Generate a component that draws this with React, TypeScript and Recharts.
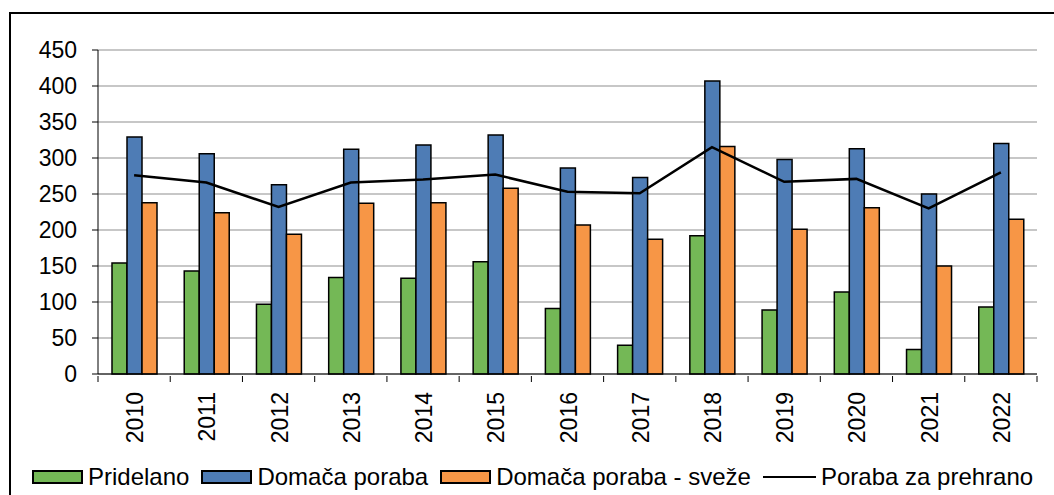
import { ComposedChart, Bar, Line, XAxis, YAxis, CartesianGrid, Legend } from 'recharts';

const leta = ['2010', '2011', '2012', '2013', '2014', '2015', '2016', '2017', '2018', '2019', '2020', '2021', '2022'];
const pridelano = [154, 143, 97, 134, 133, 156, 91, 40, 192, 89, 114, 34, 93];
const domacaPoraba = [329, 306, 263, 312, 318, 332, 286, 273, 407, 298, 313, 250, 320];
const domacaSveze = [238, 224, 194, 237, 238, 258, 207, 187, 316, 201, 231, 150, 215];
const porabaPrehrano = [276, 266, 232, 266, 270, 277, 253, 251, 315, 267, 271, 230, 280];
const yTicks = [0, 50, 100, 150, 200, 250, 300, 350, 400, 450];

const data = leta.map((leto, i) => ({
  leto,
  pridelano: pridelano[i],
  domaca: domacaPoraba[i],
  sveze: domacaSveze[i],
  prehrano: porabaPrehrano[i],
}));

const pisava = '"Liberation Sans", Arial, sans-serif';

function LetoTick(props: any) {
  const { x, y, payload, index, visibleTicksCount, width } = props;
  const n = visibleTicksCount || leta.length;
  const bw = (width || 939) / n;
  const left = x - bw / 2;
  return (
    <g>
      <line x1={left} y1={y - 6} x2={left} y2={y} stroke='#000' strokeWidth={1} />
      {index === n - 1 && (
        <line x1={x + bw / 2} y1={y - 6} x2={x + bw / 2} y2={y} stroke='#000' strokeWidth={1} />
      )}
      <text
        transform={`translate(${x + 1},${y + 10}) rotate(-90)`}
        textAnchor='end'
        dominantBaseline='central'
        fontSize={23}
        fontFamily={pisava}
        fill='#000'
      >
        {payload.value}
      </text>
    </g>
  );
}

const legendItems = [
  { name: 'Pridelano', color: '#74b856', type: 'box' },
  { name: 'Domača poraba', color: '#4e7cb5', type: 'box' },
  { name: 'Domača poraba - sveže', color: '#f79646', type: 'box' },
  { name: 'Poraba za prehrano', color: '#000', type: 'line' },
];

function Legenda() {
  return (
    <div
      style={{
        display: 'flex',
        alignItems: 'center',
        height: 30,
        paddingLeft: 32,
        fontFamily: pisava,
        fontSize: 24,
        color: '#000',
        whiteSpace: 'nowrap',
      }}
    >
      {legendItems.map((it) => (
        <div key={it.name} style={{ display: 'flex', alignItems: 'center', marginRight: 12 }}>
          {it.type === 'box' ? (
            <span
              style={{
                display: 'inline-block',
                width: 47,
                height: 10,
                background: it.color,
                border: '2px solid #000',
                marginRight: 5,
              }}
            />
          ) : (
            <span
              style={{
                display: 'inline-block',
                width: 53,
                height: 0,
                borderTop: '2px solid #000',
                marginRight: 5,
              }}
            />
          )}
          <span>{it.name}</span>
        </div>
      ))}
    </div>
  );
}

export default function App() {
  return (
    <div style={{ position: 'absolute', left: 0, top: 0, width: 1054, height: 495, overflow: 'hidden', background: '#fff' }}>
      <div
        style={{
          position: 'absolute',
          left: 9,
          top: 12,
          width: 1100,
          height: 520,
          border: '2px solid #000',
        }}
      />
      <div style={{ position: 'absolute', left: 0, top: 0 }}>
        <ComposedChart
          width={1054}
          height={495}
          data={data}
          margin={{ top: 50, right: 17, bottom: 3, left: 0 }}
          barGap={0}
        >
          <CartesianGrid vertical={false} stroke='#b4b4b4' strokeWidth={1.5} />
          <XAxis
            dataKey='leto'
            height={88}
            interval={0}
            tickLine={false}
            axisLine={{ stroke: '#000', strokeWidth: 1 }}
            tick={<LetoTick />}
          />
          <YAxis
            width={98}
            domain={[0, 450]}
            ticks={yTicks}
            interval={0}
            tickSize={6}
            tickMargin={15}
            axisLine={{ stroke: '#000', strokeWidth: 1 }}
            tickLine={{ stroke: '#000' }}
            tick={{ fontSize: 23, fontFamily: pisava, fill: '#000' }}
          />
          <Legend verticalAlign='bottom' align='left' content={() => <Legenda />} />
          <Bar dataKey='pridelano' name='Pridelano' fill='#74b856' stroke='#000' strokeWidth={1.5} barSize={15} isAnimationActive={false} />
          <Bar dataKey='domaca' name='Domača poraba' fill='#4e7cb5' stroke='#000' strokeWidth={1.5} barSize={15} isAnimationActive={false} />
          <Bar dataKey='sveze' name='Domača poraba - sveže' fill='#f79646' stroke='#000' strokeWidth={1.5} barSize={15} isAnimationActive={false} />
          <Line dataKey='prehrano' name='Poraba za prehrano' stroke='#000' strokeWidth={2.5} dot={false} type='linear' isAnimationActive={false} />
        </ComposedChart>
      </div>
    </div>
  );
}
